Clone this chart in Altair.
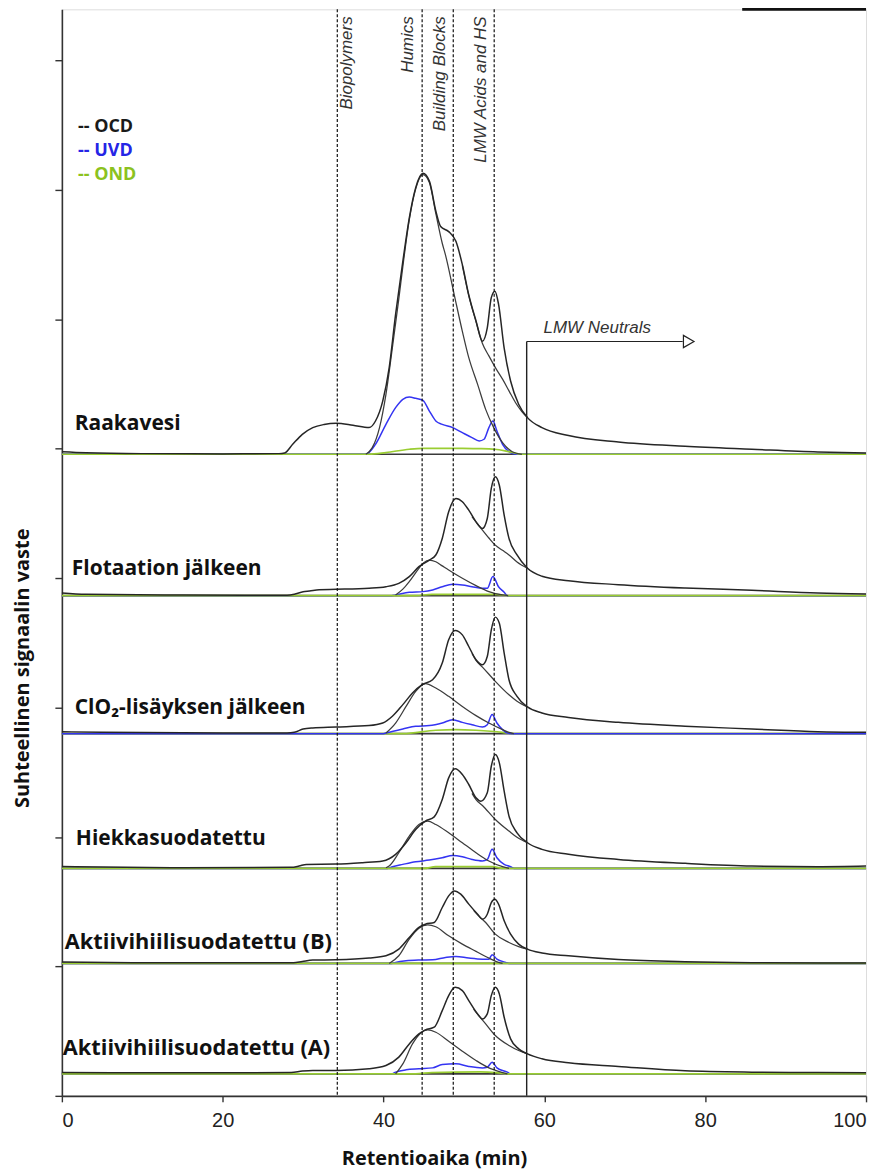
import altair as alt
import pandas as pd

# ---- panel baselines (relative signal units, tick spacing = 10) ----
SAMPLES = ["Raakavesi", "Flotaation jälkeen", "ClO₂-lisäyksen jälkeen",
           "Hiekkasuodatettu", "Aktiivihiilisuodatettu (B)", "Aktiivihiilisuodatettu (A)"]
BASELINES = [49.56, 38.64, 27.98, 17.57, 10.23, 1.70]
LABEL_X = [1.6, 1.24, 1.6, 1.74, 0.37, 0.12]
LABEL_Y = [51.87, 40.69, 29.98, 19.81, 11.87, 3.70]
LABEL_SIZE = [21, 21, 21, 21, 21.8, 21.8]

# ---- curves: (retention time min, signal above panel baseline) ----
RAAKA_OCD = [(0, 0.2), (3, 0.12), (10, 0.05), (20, 0.03), (27.0, 0.05), (27.7, 0.1), (28.7, 0.77), (29.9, 1.54),
             (31.2, 2.06), (32.6, 2.3), (34.1, 2.39), (36.2, 2.24), (38.2, 2.06), (39.0, 2.57), (39.9, 4.11),
             (40.7, 6.68), (41.5, 10.8), (42.4, 14.9), (43.2, 18.25), (44.0, 20.6), (44.9, 21.7), (45.7, 21.1),
             (46.5, 18.8), (47.1, 17.6), (48.1, 17.2), (49.0, 16.45), (49.8, 14.65), (50.6, 12.3), (51.5, 10.3),
             (52.3, 8.74), (52.9, 9.77), (53.4, 12.1), (53.85, 12.6), (54.3, 11.6), (55.0, 8.2), (55.8, 5.66),
             (56.8, 3.86), (57.9, 2.83), (59.7, 2.06), (63.0, 1.45), (69.2, 0.95), (77.5, 0.62), (85.8, 0.39),
             (94.0, 0.18), (100, 0.1)]
RAAKA_HS = [(37.8, 0), (38.6, 0.51), (39.5, 2.06), (40.3, 4.63), (41.1, 8.23), (41.9, 12.0), (42.4, 14.5),
            (43.2, 18.1), (44.0, 20.5), (44.9, 21.6), (45.7, 21.0), (46.5, 18.6), (47.3, 16.3), (47.7, 15.4),
            (48.8, 12.3), (49.8, 9.5), (50.6, 7.46), (51.7, 5.4), (52.7, 3.47), (53.7, 2.06), (54.8, 0.9),
            (56.0, 0.2), (57.2, 0)]
RAAKA_BB = [(49.8, 14.6), (50.6, 12.25), (51.5, 10.25), (52.3, 8.55), (53.1, 7.6), (54.0, 6.6), (54.8, 5.8),
            (55.6, 4.9), (56.4, 4.0), (57.2, 3.3), (57.9, 2.83)]
RAAKA_UVD = [(0, 0), (37.8, 0), (39.0, 0.77), (40.3, 2.31), (41.5, 3.6), (42.4, 4.24), (43.2, 4.42), (44.0, 4.32),
             (44.9, 4.16), (45.7, 3.34), (46.5, 2.57), (47.3, 2.31), (48.6, 2.06), (49.8, 1.67), (51.0, 1.29),
             (51.9, 1.03), (52.5, 1.16), (53.1, 2.06), (53.6, 2.57), (54.1, 1.8), (54.8, 0.77), (55.6, 0.2),
             (56.4, 0), (100, 0)]
RAAKA_OND = [(0, 0), (38.2, 0), (40.3, 0.13), (43.2, 0.39), (44.9, 0.46), (49.8, 0.46), (51.7, 0.44),
             (53.85, 0.39), (55.6, 0.2), (57.2, 0), (100, 0)]

FLOT_OCD = [(0, 0.2), (3, 0.1), (15, 0.05), (28.0, 0.03), (28.9, 0.1), (30.0, 0.3), (30.8, 0.36), (32.0, 0.46),
            (34.1, 0.49), (38.2, 0.57), (40.3, 0.69), (41.9, 0.95), (43.2, 1.47), (44.4, 2.24), (45.7, 2.75),
            (46.5, 3.14), (47.3, 4.42), (48.1, 6.48), (49.0, 7.5), (49.8, 7.25), (50.6, 6.6), (51.5, 5.7),
            (52.3, 5.19), (52.9, 5.96), (53.4, 8.28), (53.9, 9.18), (54.4, 8.53), (55.0, 6.22), (55.6, 4.42),
            (56.6, 3.14), (57.9, 2.11), (59.7, 1.5), (63.0, 1.15), (69.2, 0.85), (77.5, 0.59), (85.8, 0.41),
            (94.0, 0.2), (100, 0.13)]
FLOT_HS = [(41.5, 0.05), (42.4, 0.5), (43.2, 1.08), (44.4, 2.1), (45.0, 2.55), (45.7, 2.75), (46.5, 2.62),
           (47.3, 2.3), (48.1, 1.98), (49.8, 1.34), (51.5, 0.77), (53.1, 0.31), (54.8, 0.05), (55.5, 0)]
FLOT_BB = [(51.0, 6.1), (51.5, 5.7), (52.3, 5.06), (53.1, 4.45), (53.9, 3.9), (54.8, 3.5), (55.6, 3.14),
           (56.6, 2.6), (57.9, 2.11)]
FLOT_UVD = [(0, 0), (41.0, 0), (41.5, 0.05), (43.2, 0.26), (44.9, 0.31), (46.1, 0.44), (47.3, 0.69), (48.6, 0.87),
            (49.8, 0.82), (51.0, 0.69), (52.3, 0.57), (52.9, 0.57), (53.6, 1.47), (54.3, 0.69), (55.0, 0.26),
            (55.4, 0), (100, 0)]
FLOT_OND = [(0, 0), (44.0, 0), (46.0, 0.1), (54.0, 0.1), (55.5, 0), (100, 0)]

CLO2_OCD = [(0, 0.15), (5, 0.1), (20, 0.05), (28.0, 0.05), (28.9, 0.1), (30.0, 0.35), (31.2, 0.44), (34.1, 0.51),
            (38.2, 0.62), (39.9, 0.82), (41.1, 1.34), (42.4, 2.24), (43.6, 3.14), (44.8, 3.78), (46.1, 4.16),
            (47.3, 5.45), (48.1, 7.25), (48.9, 7.97), (49.8, 7.63), (50.6, 6.73), (51.5, 5.71), (52.3, 5.32),
            (52.9, 5.96), (53.4, 8.02), (53.9, 9.0), (54.4, 8.53), (55.0, 6.22), (55.6, 4.16), (56.6, 2.88),
            (57.9, 2.06), (59.7, 1.59), (63.0, 1.25), (69.2, 0.87), (77.5, 0.57), (85.8, 0.36), (94.0, 0.15),
            (100, 0.1)]
CLO2_HS = [(40.3, 0.05), (41.5, 0.82), (42.8, 2.1), (44.0, 3.26), (45.2, 3.86), (46.5, 3.52), (48.1, 2.88),
           (49.8, 2.1), (51.5, 1.39), (53.1, 0.82), (54.8, 0.31), (55.6, 0.1), (56.2, 0)]
CLO2_BB = [(51.0, 6.2), (51.5, 5.66), (52.3, 5.14), (53.9, 4.04), (55.6, 3.0), (56.6, 2.5), (57.9, 2.06)]
CLO2_UVD = [(0, 0), (40.0, 0), (40.3, 0.05), (42.4, 0.36), (44.0, 0.57), (45.7, 0.62), (47.3, 0.82), (48.6, 1.08),
            (49.8, 0.87), (51.0, 0.69), (52.3, 0.51), (52.9, 0.69), (53.5, 1.47), (54.1, 0.82), (54.8, 0.31),
            (55.4, 0.05), (56.0, 0), (100, 0)]
CLO2_OND = [(0, 0), (42.4, 0), (46.5, 0.26), (49.0, 0.31), (51.5, 0.26), (54.8, 0.1), (56, 0), (100, 0)]

HIEKKA_OCD = [(0, 0.15), (5, 0.1), (15, 0.05), (28.5, 0.08), (29.5, 0.18), (30.4, 0.31), (34.1, 0.33),
              (37.4, 0.44), (39.9, 0.57), (41.5, 1.08), (42.8, 1.98), (44.0, 3.0), (45.2, 3.65), (46.3, 3.98),
              (47.3, 5.32), (48.1, 6.99), (48.9, 7.69), (49.8, 7.25), (50.6, 6.48), (51.5, 5.45), (52.1, 5.19),
              (52.9, 5.84), (53.4, 7.89), (53.9, 8.79), (54.4, 8.15), (55.0, 5.96), (55.6, 4.04), (56.6, 2.75),
              (57.9, 1.98), (59.7, 1.47), (63.0, 1.1), (69.2, 0.69), (77.5, 0.39), (85.8, 0.18), (94.0, 0.13),
              (100, 0.18)]
HIEKKA_HS = [(40.3, 0.05), (40.7, 0.18), (41.9, 1.21), (43.2, 2.49), (44.4, 3.39), (45.5, 3.65), (46.5, 3.39),
             (48.1, 2.75), (49.8, 1.98), (51.5, 1.21), (53.1, 0.57), (54.8, 0.13), (55.6, 0)]
HIEKKA_BB = [(51.0, 5.8), (51.5, 5.32), (52.3, 4.86), (53.9, 3.78), (55.6, 2.88), (56.6, 2.4), (57.9, 1.98)]
HIEKKA_UVD = [(0, 0), (40.5, 0), (41.1, 0.13), (42.4, 0.31), (44.0, 0.51), (45.7, 0.64), (47.3, 0.82),
              (48.6, 1.0), (49.8, 0.9), (51.0, 0.69), (52.3, 0.57), (52.9, 0.69), (53.5, 1.47), (54.1, 0.82),
              (55.0, 0.31), (55.8, 0.13), (56.2, 0), (100, 0)]
HIEKKA_OND = [(0, 0), (45, 0), (46.5, 0.13), (53.5, 0.13), (55, 0), (100, 0)]

AKTB_OCD = [(0, 0.1), (10, 0.05), (28.8, 0.05), (29.9, 0.15), (31.2, 0.26), (34.1, 0.28), (38.2, 0.41),
            (40.3, 0.59), (41.9, 1.1), (43.2, 2.0), (44.4, 2.78), (45.2, 3.03), (46.3, 3.16), (47.3, 4.32),
            (48.1, 5.22), (48.8, 5.6), (49.6, 5.35), (50.6, 4.58), (51.7, 3.8), (52.3, 3.42), (52.9, 3.8),
            (53.4, 4.7), (53.85, 4.96), (54.3, 4.58), (55.0, 3.29), (55.8, 2.26), (56.8, 1.49), (57.9, 1.1),
            (59.7, 0.8), (63.0, 0.59), (69.2, 0.3), (77.5, 0.13), (85.8, 0.06), (100, 0.03)]
AKTB_HS = [(40.7, 0), (41.9, 0.59), (43.2, 1.88), (44.4, 2.72), (45.5, 2.98), (46.5, 2.83), (48.1, 2.13),
           (49.8, 1.49), (51.5, 0.93), (53.1, 0.41), (54.3, 0.08), (54.8, 0)]
AKTB_BB = [(51.2, 4.1), (51.7, 3.75), (52.7, 3.16), (53.9, 2.26), (55.6, 1.62), (56.8, 1.3), (57.9, 1.1)]
AKTB_UVD = [(0, 0), (41.0, 0), (41.5, 0.08), (42.8, 0.2), (44.4, 0.26), (46.1, 0.28), (47.7, 0.46), (49.0, 0.54),
            (50.6, 0.41), (52.3, 0.33), (53.1, 0.33), (53.5, 0.67), (54.1, 0.33), (55.2, 0.08), (55.6, 0),
            (100, 0)]
AKTB_OND = [(0, 0), (100, 0)]

AKTA_OCD = [(0, 0.1), (10, 0.08), (28.5, 0.1), (29.9, 0.21), (31.2, 0.26), (34.1, 0.26), (38.2, 0.39),
            (40.3, 0.64), (41.9, 1.29), (43.2, 2.31), (44.4, 3.08), (45.2, 3.39), (46.3, 3.6), (47.3, 4.88),
            (48.1, 6.04), (48.9, 6.68), (49.8, 6.43), (50.6, 5.66), (51.7, 4.63), (52.3, 4.24), (52.9, 4.63),
            (53.4, 6.04), (53.9, 6.68), (54.4, 6.17), (55.0, 4.37), (55.8, 2.7), (56.8, 1.93), (57.9, 1.54),
            (59.7, 1.16), (63.0, 0.85), (69.2, 0.57), (77.5, 0.23), (85.8, 0.13), (94.0, 0.1), (100, 0.08)]
AKTA_HS = [(41.5, 0), (42.4, 0.77), (43.6, 2.31), (44.6, 3.14), (45.5, 3.39), (46.5, 3.21), (48.1, 2.52),
           (49.8, 1.75), (51.5, 1.03), (53.1, 0.46), (54.8, 0.1), (55.4, 0)]
AKTA_BB = [(51.2, 5.0), (51.7, 4.6), (52.7, 3.86), (53.9, 2.96), (55.6, 2.19), (56.8, 1.8), (57.9, 1.54)]
AKTA_UVD = [(0, 0), (41.0, 0), (41.5, 0.13), (42.8, 0.31), (44.4, 0.39), (46.1, 0.46), (47.3, 0.72), (49.0, 0.77),
            (50.6, 0.57), (52.3, 0.46), (52.9, 0.51), (53.5, 0.9), (54.1, 0.46), (55.4, 0.13), (55.8, 0),
            (100, 0)]
AKTA_OND = [(0, 0), (44, 0), (46, 0.1), (52, 0.15), (54, 0.1), (55.5, 0), (100, 0)]

CURVES = [
    (RAAKA_OCD, RAAKA_HS, RAAKA_BB, RAAKA_UVD, RAAKA_OND),
    (FLOT_OCD, FLOT_HS, FLOT_BB, FLOT_UVD, FLOT_OND),
    (CLO2_OCD, CLO2_HS, CLO2_BB, CLO2_UVD, CLO2_OND),
    (HIEKKA_OCD, HIEKKA_HS, HIEKKA_BB, HIEKKA_UVD, HIEKKA_OND),
    (AKTB_OCD, AKTB_HS, AKTB_BB, AKTB_UVD, AKTB_OND),
    (AKTA_OCD, AKTA_HS, AKTA_BB, AKTA_UVD, AKTA_OND),
]
SERIES = ["OCD", "HS", "BB", "UVD", "OND"]
# panels where the blue UVD baseline lies on top of the green OND baseline
UVD_ON_TOP = [2]

# fraction boundaries
BOUND_X = [34.25, 44.8, 48.67, 53.76]
BOUND_LABEL = ["Biopolymers", "Humics", "Building Blocks", "LMW Acids and HS"]
BOUND_LABEL_X = [35.4, 43.05, 47.02, 52.15]
BOUND_LABEL_TOP = 83.39

NEUTRAL_X, NEUTRAL_END, NEUTRAL_Y = 57.8, 77.2, 58.27
LEGEND_TEXT = ["-- OCD", "-- UVD", "-- OND"]
LEGEND_Y = [74.86, 72.99, 71.11]
LEGEND_COLOR = ["#1a1a1a", "#2525e6", "#8cc21e"]
TOP_MARK = (84.6, 100)   # thick black piece of the top frame

# ---------- build tables ----------
rows = []
for i, (sample, base) in enumerate(zip(SAMPLES, BASELINES)):
    for s, pts in zip(SERIES, CURVES[i]):
        for x, v in pts:
            rows.append({"panel": i, "series": s, "key": f"{i}-{s}", "t": x, "sig": base + v,
                         "ondtop": 0 if i in UVD_ON_TOP else 1})
df = pd.DataFrame(rows)

W, H = 806, 1089
xs = alt.Scale(domain=[0, 100], nice=False, zero=False)
ys = alt.Scale(domain=[0, H / 12.975], nice=False, zero=False)

X = alt.X("t:Q", scale=xs,
          axis=alt.Axis(values=[0, 20, 40, 60, 80, 100], title="Retentioaika (min)", grid=False,
                        tickSize=6, labelFont="Liberation Sans", labelFontSize=20, labelColor="#222",
                        labelPadding=9, domainColor="#333", domainWidth=1.6, tickColor="#333",
                        tickWidth=1.4, titleFont="Open Sans", titleFontSize=20, titleFontWeight="bold",
                        titleColor="#111", titleX=373, titleY=63, titleAlign="center",
                        titleBaseline="middle"))
Y = alt.Y("sig:Q", scale=ys,
          axis=alt.Axis(values=[0, 10, 20, 30, 40, 50, 60, 70, 80], labels=False,
                        title="Suhteellinen signaalin vaste", grid=False, tickSize=7, domainColor="#333",
                        domainWidth=1.6, tickColor="#333", tickWidth=1.4, titleFont="Open Sans",
                        titleFontSize=20, titleFontWeight="bold", titleColor="#111", titleAngle=270,
                        titleX=-39, titleY=660, titleAlign="center", titleBaseline="middle"))

base = alt.Chart(df)

sep_df = pd.DataFrame({"t": [0] * len(BASELINES), "t2": [100] * len(BASELINES), "sig": BASELINES})
separators = alt.Chart(sep_df).mark_rule(color="#3a3a3a", strokeWidth=1.6).encode(
    x=X, x2="t2:Q", y=Y)

ond_under = base.transform_filter((alt.datum.series == "OND") & (alt.datum.ondtop == 0)).mark_line(
    color="#9acd32", strokeWidth=1.7, interpolate="monotone").encode(x=X, y=Y, detail="key:N")
uvd = base.transform_filter(alt.datum.series == "UVD").mark_line(
    color="#3434f2", strokeWidth=1.5, interpolate="monotone").encode(x=X, y=Y, detail="key:N")
ond = base.transform_filter((alt.datum.series == "OND") & (alt.datum.ondtop == 1)).mark_line(
    color="#9acd32", strokeWidth=1.7, interpolate="monotone").encode(x=X, y=Y, detail="key:N")
fits = base.transform_filter((alt.datum.series == "HS") | (alt.datum.series == "BB")).mark_line(
    color="#3c3c3c", strokeWidth=1.25, interpolate="monotone").encode(x=X, y=Y, detail="key:N")
ocd = base.transform_filter(alt.datum.series == "OCD").mark_line(
    color="#262626", strokeWidth=1.5, interpolate="monotone").encode(x=X, y=Y, detail="key:N")

bdf = pd.DataFrame({"t": BOUND_X})
bounds = alt.Chart(bdf).mark_rule(color="#111", strokeWidth=1.2, strokeDash=[3, 2]).encode(
    x=X, y=alt.value(0), y2=alt.value(H))

bl_df = pd.DataFrame({"t": BOUND_LABEL_X, "sig": [BOUND_LABEL_TOP] * 4, "label": BOUND_LABEL})
bound_labels = alt.Chart(bl_df).mark_text(
    angle=270, align="right", baseline="middle", font="Liberation Sans", fontStyle="italic",
    fontSize=17, color="#333").encode(x=X, y=Y, text="label:N")

neutral_v = alt.Chart(pd.DataFrame({"t": [NEUTRAL_X], "sig": [0], "sig2": [NEUTRAL_Y]})).mark_rule(
    color="#222", strokeWidth=1.4).encode(x=X, y=Y, y2="sig2:Q")
neutral_h = alt.Chart(pd.DataFrame({"t": [NEUTRAL_X], "t2": [NEUTRAL_END], "sig": [NEUTRAL_Y]})).mark_rule(
    color="#222", strokeWidth=1.2).encode(x=X, x2="t2:Q", y=Y)
neutral_head = alt.Chart(pd.DataFrame({"t": [NEUTRAL_END + 0.75], "sig": [NEUTRAL_Y]})).mark_point(
    shape="triangle-right", size=150, filled=True, fill="white", stroke="#222", strokeWidth=1.2,
    opacity=1).encode(x=X, y=Y)
neutral_text = alt.Chart(pd.DataFrame({"t": [59.9], "sig": [59.35], "label": ["LMW Neutrals"]})).mark_text(
    align="left", baseline="middle", font="Liberation Sans", fontStyle="italic", fontSize=17,
    color="#333").encode(x=X, y=Y, text="label:N")

top_mark = alt.Chart(pd.DataFrame({"t": [TOP_MARK[0]], "t2": [TOP_MARK[1]]})).mark_rule(
    color="#111", strokeWidth=3).encode(x=X, x2="t2:Q", y=alt.value(0))

lab_df = pd.DataFrame({"t": LABEL_X, "sig": LABEL_Y, "label": SAMPLES, "fs": LABEL_SIZE})
sample_labels = alt.Chart(lab_df).mark_text(
    align="left", baseline="middle", font="Open Sans", fontWeight="bold",
    color="#111").encode(x=X, y=Y, text="label:N", size=alt.Size("fs:Q", scale=None, legend=None))

leg_df = pd.DataFrame({"t": [2.0] * 3, "sig": LEGEND_Y, "label": LEGEND_TEXT, "c": LEGEND_COLOR})
legend = alt.Chart(leg_df).mark_text(
    align="left", baseline="middle", font="Open Sans", fontWeight="bold", fontSize=18).encode(
    x=X, y=Y, text="label:N", color=alt.Color("c:N", scale=None))

chart = alt.layer(
    separators, ond_under, uvd, ond, fits, ocd, bounds, bound_labels,
    neutral_v, neutral_h, neutral_head, neutral_text, top_mark, sample_labels, legend
).properties(
    width=W, height=H,
    autosize=alt.AutoSizeParams(type="none"),
    padding={"left": 54, "top": 0, "right": 14, "bottom": 76},
).configure_view(stroke="#444", strokeWidth=1.4).configure(background="white")

chart.save("out.html", embed_options={"renderer": "svg", "actions": False})
